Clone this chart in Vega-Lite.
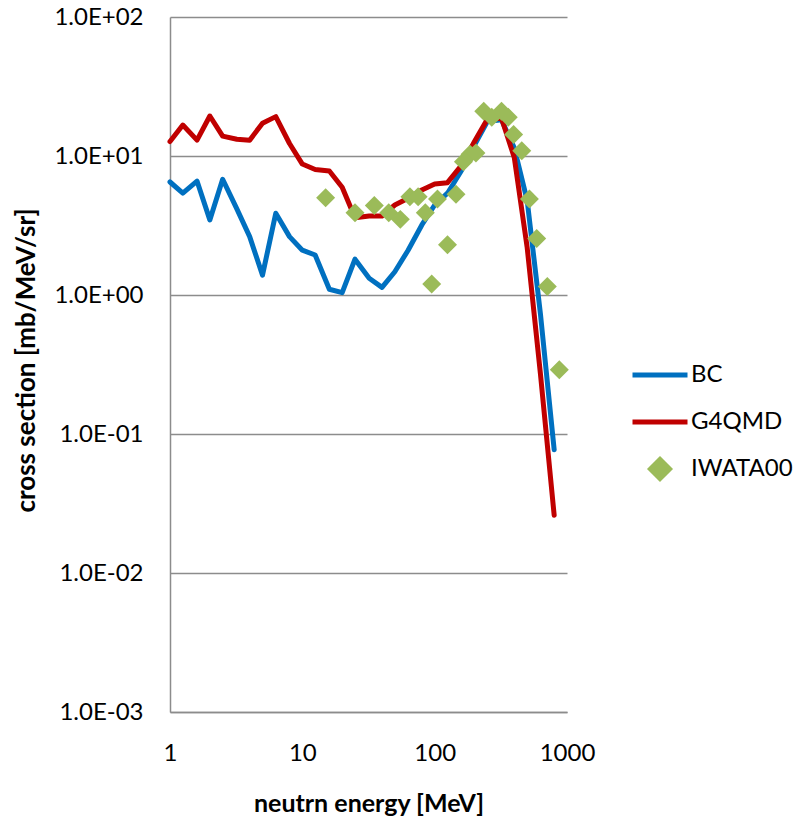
{
  "$schema": "https://vega.github.io/schema/vega-lite/v6.json",
  "width": 397,
  "height": 695,
  "autosize": "none",
  "padding": {"left": 170, "top": 17, "right": 227, "bottom": 111},
  "background": "white",
  "config": {
    "view": {"stroke": null},
    "font": "Lato",
    "axis": {"labelFont": "Lato", "titleFont": "Lato", "labelColor": "#000000", "titleColor": "#000000"}
  },
  "data": {
    "values": [
      {"series": "BC", "E": 1, "sigma": 6.5},
      {"series": "BC", "E": 1.25, "sigma": 5.4},
      {"series": "BC", "E": 1.6, "sigma": 6.6},
      {"series": "BC", "E": 2, "sigma": 3.47},
      {"series": "BC", "E": 2.5, "sigma": 6.8},
      {"series": "BC", "E": 3.2, "sigma": 4.16},
      {"series": "BC", "E": 4, "sigma": 2.63},
      {"series": "BC", "E": 5, "sigma": 1.39},
      {"series": "BC", "E": 6.3, "sigma": 3.87},
      {"series": "BC", "E": 8, "sigma": 2.63},
      {"series": "BC", "E": 10, "sigma": 2.1},
      {"series": "BC", "E": 12.5, "sigma": 1.94},
      {"series": "BC", "E": 16, "sigma": 1.1},
      {"series": "BC", "E": 20, "sigma": 1.04},
      {"series": "BC", "E": 25, "sigma": 1.81},
      {"series": "BC", "E": 32, "sigma": 1.32},
      {"series": "BC", "E": 40, "sigma": 1.135},
      {"series": "BC", "E": 50, "sigma": 1.47},
      {"series": "BC", "E": 63, "sigma": 2.1},
      {"series": "BC", "E": 80, "sigma": 3.19},
      {"series": "BC", "E": 100, "sigma": 4.44},
      {"series": "BC", "E": 125, "sigma": 5.4},
      {"series": "BC", "E": 160, "sigma": 7.9},
      {"series": "BC", "E": 200, "sigma": 12.0},
      {"series": "BC", "E": 250, "sigma": 17.7},
      {"series": "BC", "E": 320, "sigma": 18.2},
      {"series": "BC", "E": 400, "sigma": 11.4},
      {"series": "BC", "E": 500, "sigma": 4.8},
      {"series": "BC", "E": 630, "sigma": 0.73},
      {"series": "BC", "E": 800, "sigma": 0.077},
      {"series": "G4QMD", "E": 1, "sigma": 12.7},
      {"series": "G4QMD", "E": 1.25, "sigma": 16.7},
      {"series": "G4QMD", "E": 1.6, "sigma": 13.0},
      {"series": "G4QMD", "E": 2, "sigma": 19.4},
      {"series": "G4QMD", "E": 2.5, "sigma": 13.9},
      {"series": "G4QMD", "E": 3.2, "sigma": 13.2},
      {"series": "G4QMD", "E": 4, "sigma": 13.0},
      {"series": "G4QMD", "E": 5, "sigma": 17.2},
      {"series": "G4QMD", "E": 6.3, "sigma": 19.2},
      {"series": "G4QMD", "E": 8, "sigma": 12.3},
      {"series": "G4QMD", "E": 10, "sigma": 8.75},
      {"series": "G4QMD", "E": 12.5, "sigma": 8.0},
      {"series": "G4QMD", "E": 16, "sigma": 7.8},
      {"series": "G4QMD", "E": 20, "sigma": 5.96},
      {"series": "G4QMD", "E": 25, "sigma": 3.6},
      {"series": "G4QMD", "E": 32, "sigma": 3.7},
      {"series": "G4QMD", "E": 40, "sigma": 3.7},
      {"series": "G4QMD", "E": 50, "sigma": 4.44},
      {"series": "G4QMD", "E": 63, "sigma": 4.96},
      {"series": "G4QMD", "E": 80, "sigma": 5.7},
      {"series": "G4QMD", "E": 100, "sigma": 6.3},
      {"series": "G4QMD", "E": 125, "sigma": 6.43},
      {"series": "G4QMD", "E": 160, "sigma": 8.6},
      {"series": "G4QMD", "E": 200, "sigma": 12.7},
      {"series": "G4QMD", "E": 250, "sigma": 18.4},
      {"series": "G4QMD", "E": 320, "sigma": 18.7},
      {"series": "G4QMD", "E": 400, "sigma": 9.7},
      {"series": "G4QMD", "E": 500, "sigma": 2.2},
      {"series": "G4QMD", "E": 630, "sigma": 0.27},
      {"series": "G4QMD", "E": 800, "sigma": 0.026},
      {"series": "IWATA00", "E": 15, "sigma": 5.0},
      {"series": "IWATA00", "E": 25, "sigma": 3.9},
      {"series": "IWATA00", "E": 35, "sigma": 4.4},
      {"series": "IWATA00", "E": 45, "sigma": 3.9},
      {"series": "IWATA00", "E": 55, "sigma": 3.5},
      {"series": "IWATA00", "E": 65, "sigma": 5.1},
      {"series": "IWATA00", "E": 75, "sigma": 5.1},
      {"series": "IWATA00", "E": 85, "sigma": 3.9},
      {"series": "IWATA00", "E": 95, "sigma": 1.2},
      {"series": "IWATA00", "E": 105, "sigma": 4.9},
      {"series": "IWATA00", "E": 125, "sigma": 2.3},
      {"series": "IWATA00", "E": 145, "sigma": 5.3},
      {"series": "IWATA00", "E": 165, "sigma": 9.1},
      {"series": "IWATA00", "E": 185, "sigma": 10.3},
      {"series": "IWATA00", "E": 205, "sigma": 10.5},
      {"series": "IWATA00", "E": 235, "sigma": 21.0},
      {"series": "IWATA00", "E": 270, "sigma": 19.0},
      {"series": "IWATA00", "E": 320, "sigma": 21.0},
      {"series": "IWATA00", "E": 360, "sigma": 19.0},
      {"series": "IWATA00", "E": 395, "sigma": 14.3},
      {"series": "IWATA00", "E": 455, "sigma": 10.9},
      {"series": "IWATA00", "E": 520, "sigma": 4.9},
      {"series": "IWATA00", "E": 590, "sigma": 2.55},
      {"series": "IWATA00", "E": 710, "sigma": 1.15},
      {"series": "IWATA00", "E": 875, "sigma": 0.29}
    ]
  },
  "encoding": {
    "x": {
      "field": "E", "type": "quantitative",
      "scale": {"type": "log", "domain": [1, 1000], "nice": false},
      "axis": {
        "values": [1, 10, 100, 1000],
        "format": "d",
        "grid": false, "ticks": false, "tickSize": 0,
        "domain": true, "domainColor": "#8c8c8c", "domainWidth": 1.5,
        "labelFontSize": 24, "labelBaseline": "alphabetic", "labelPadding": 48,
        "labelFlush": false, "labelOverlap": false,
        "title": "neutrn energy [MeV]", "titleFontSize": 25, "titleFontWeight": "bold",
        "titleBaseline": "alphabetic", "titleX": 198.5, "titleY": 99, "titleAlign": "center"
      }
    },
    "y": {
      "field": "sigma", "type": "quantitative",
      "scale": {"type": "log", "domain": [0.001, 100], "nice": false},
      "axis": {
        "values": [0.001, 0.01, 0.1, 1, 10, 100],
        "labelExpr": "'1.0E' + (datum.value >= 1 ? '+' : '-') + '0' + abs(round(log(datum.value)/LN10))",
        "grid": true, "gridColor": "#8c8c8c", "gridWidth": 1.5,
        "ticks": false, "tickSize": 0,
        "domain": true, "domainColor": "#8c8c8c", "domainWidth": 1.5,
        "labelFontSize": 24, "labelBaseline": "middle", "labelPadding": 27,
        "labelFlush": false, "labelOverlap": false,
        "title": "cross section [mb/MeV/sr]", "titleFontSize": 26, "titleFontWeight": "bold",
        "titleBaseline": "alphabetic", "titleAngle": -90, "titleX": -136, "titleY": 343, "titleAlign": "center"
      }
    },
    "color": {
      "field": "series", "type": "nominal",
      "scale": {"domain": ["BC", "G4QMD", "IWATA00"], "range": ["#0070C0", "#C00000", "#9BBB59"]},
      "legend": {
        "orient": "none", "legendX": 460, "legendY": 328,
        "title": null,
        "symbolType": "stroke", "symbolSize": 3025, "symbolStrokeWidth": 5,
        "labelFont": "Lato", "labelFontSize": 24, "labelColor": "#000000",
        "labelOffset": 1, "rowPadding": 5,
        "encode": {
          "symbols": {
            "update": {
              "shape": {"signal": "datum.value === 'IWATA00' ? 'diamond' : 'stroke'"},
              "size": {"signal": "datum.value === 'IWATA00' ? 360 : 3025"},
              "fill": {"signal": "datum.value === 'IWATA00' ? '#9BBB59' : 'transparent'"},
              "stroke": {"signal": "datum.value === 'BC' ? '#0070C0' : (datum.value === 'G4QMD' ? '#C00000' : 'transparent')"},
              "strokeWidth": {"value": 5},
              "opacity": {"value": 1}
            }
          }
        }
      }
    }
  },
  "layer": [
    {
      "transform": [{"filter": "datum.series !== 'IWATA00'"}],
      "mark": {"type": "line", "strokeWidth": 5, "strokeJoin": "round", "strokeCap": "round"}
    },
    {
      "transform": [{"filter": "datum.series === 'IWATA00'"}],
      "mark": {"type": "point", "shape": "diamond", "filled": true, "size": 360, "opacity": 1}
    }
  ]
}
